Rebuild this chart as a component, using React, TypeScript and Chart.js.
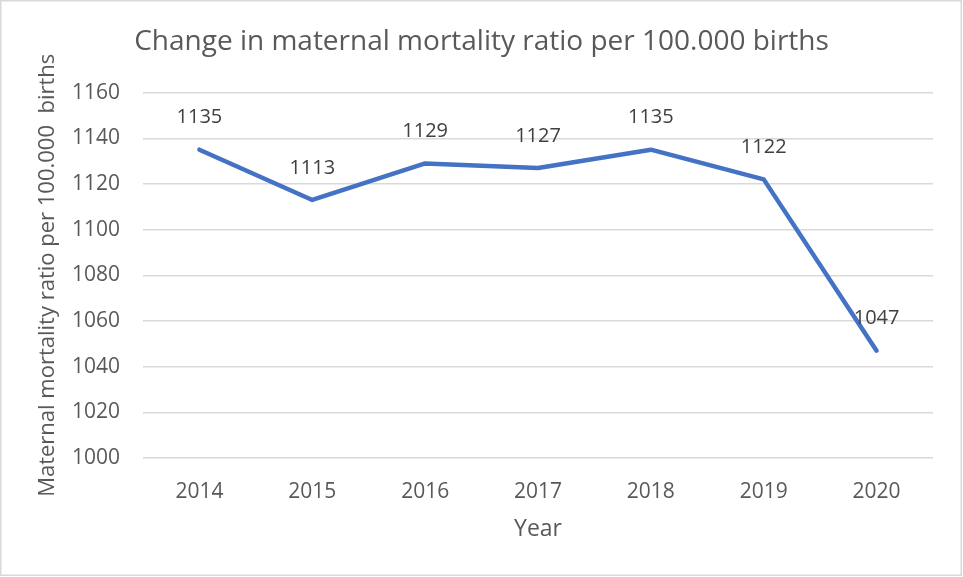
import React, { useEffect, useRef } from "react";
import { Chart, registerables } from "chart.js";

Chart.register(...registerables);

const years = ["2014", "2015", "2016", "2017", "2018", "2019", "2020"];
const ratios = [1135, 1113, 1129, 1127, 1135, 1122, 1047];
const yMin = 1000;
const yMax = 1160;
const yStep = 20;
const titleText = "Change in maternal mortality ratio per 100.000 births";
const yTitle = "Maternal mortality ratio per 100.000  births";
const xTitle = "Year";

const FONT = "'Open Sans', 'Liberation Sans', sans-serif";

const labelPlugin = {
  id: "pointLabels",
  afterDatasetsDraw(chart: any) {
    const ctx = chart.ctx;
    const meta = chart.getDatasetMeta(0);
    ctx.save();
    ctx.font = `20px ${FONT}`;
    ctx.fillStyle = "#404040";
    ctx.textAlign = "center";
    ctx.textBaseline = "middle";
    meta.data.forEach((pt: any, i: number) => {
      ctx.fillText(String(ratios[i]), pt.x, pt.y - 32);
    });
    ctx.restore();
  },
};

const borderPlugin = {
  id: "outerBorder",
  beforeDraw(chart: any) {
    const ctx = chart.ctx;
    ctx.save();
    ctx.fillStyle = "#ffffff";
    ctx.fillRect(0, 0, chart.width, chart.height);
    ctx.strokeStyle = "#d9d9d9";
    ctx.lineWidth = 1.5;
    ctx.strokeRect(0.75, 0.75, chart.width - 2.5, chart.height - 2.5);
    ctx.restore();
  },
};

export default function App() {
  const ref = useRef<HTMLCanvasElement | null>(null);
  useEffect(() => {
    document.body.style.margin = "0";
    if (!ref.current) return;
    const chart = new Chart(ref.current, {
      type: "line",
      data: {
        labels: years,
        datasets: [
          {
            data: ratios,
            borderColor: "#4472C4",
            borderWidth: 4.5,
            borderCapStyle: "round",
            borderJoinStyle: "round",
            pointRadius: 0,
            pointHoverRadius: 0,
            tension: 0,
            fill: false,
          },
        ],
      },
      options: {
        animation: false,
        responsive: false,
        layout: { padding: { left: 30, right: 30, top: 0, bottom: 0 } },
        plugins: {
          legend: { display: false },
          tooltip: { enabled: false },
          title: {
            display: true,
            text: titleText,
            color: "#595959",
            font: { family: FONT, size: 28, weight: "normal" },
            padding: { top: 25, bottom: 34 },
          },
        },
        scales: {
          x: {
            offset: true,
            grid: { display: false },
            border: { display: false },
            ticks: { color: "#595959", font: { family: FONT, size: 21 }, padding: 13 },
            title: {
              display: true,
              text: xTitle,
              color: "#595959",
              font: { family: FONT, size: 23 },
              padding: { top: 0, bottom: 34 },
            },
            afterFit: (s: any) => {
              s.height = 119;
            },
          },
          y: {
            min: yMin,
            max: yMax,
            grid: { color: "#d9d9d9", lineWidth: 1.5, drawTicks: false },
            border: { display: false },
            ticks: {
              stepSize: yStep,
              color: "#595959",
              font: { family: FONT, size: 21 },
              padding: 23,
              callback: (v: any) => String(v),
            },
            title: {
              display: true,
              text: yTitle,
              color: "#595959",
              font: { family: FONT, size: 22 },
              padding: { top: 5, bottom: 0 },
            },
            afterFit: (s: any) => {
              s.width = 113;
            },
          },
        },
      },
      plugins: [borderPlugin, labelPlugin],
    });
    return () => chart.destroy();
  }, []);
  return (
    <div style={{ width: 963, height: 577 }}>
      <canvas ref={ref} width={963} height={577} style={{ display: "block" }} />
    </div>
  );
}
